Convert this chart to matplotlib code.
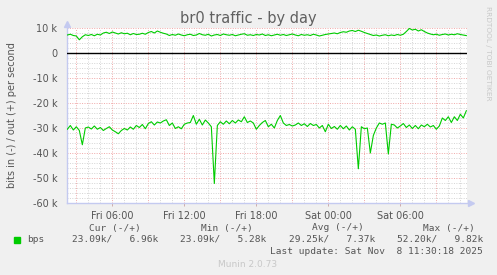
import numpy as np
import matplotlib.pyplot as plt
from matplotlib.ticker import FuncFormatter

# samples every 15 minutes, starting Fri 02:15 (hours since Fri 00:00)
start_hour = 2.25
step_hour = 0.25

# bits per second, in (drawn negative), thousands
bps_in = [
    30.5, 29.0, 30.8, 29.5, 31.0, 36.7, 30.0, 29.6, 30.4, 29.2,
    30.5, 29.8, 31.0, 30.2, 29.5, 30.8, 31.5, 32.3, 31.0, 30.2,
    30.8, 29.6, 30.5, 29.0, 29.8, 28.6, 30.3, 28.2, 27.5, 28.8,
    27.6, 28.0, 27.2, 26.7, 29.0, 28.0, 30.2, 29.5, 30.3, 28.5,
    28.0, 27.8, 25.0, 28.5, 26.5, 28.8, 26.8, 28.0, 29.5, 52.2,
    29.0, 27.5, 28.5, 27.2, 28.3, 27.0, 28.0, 26.8, 27.5, 25.5,
    27.8, 27.2, 28.0, 30.5, 29.0, 27.8, 27.0, 29.5, 28.5, 30.0,
    27.0, 25.0, 28.0, 29.0, 28.6, 29.2, 28.8, 28.0, 29.0, 28.3,
    29.4, 28.2, 29.0, 28.6, 30.0, 29.0, 31.5, 28.5, 30.2, 29.4,
    30.5, 29.0, 30.3, 29.2, 30.8, 29.5, 30.5, 46.3, 29.5, 30.3,
    30.0, 40.0, 33.0, 30.0, 28.0, 28.5, 28.0, 40.4, 28.5, 28.8,
    30.0, 29.2, 28.2, 29.8, 28.8, 30.2, 29.0, 30.3, 28.8, 29.5,
    28.5, 29.6, 29.0, 30.5, 29.2, 26.0, 27.0, 25.5, 27.8, 25.5,
    27.0, 24.5, 26.0, 23.09,
]

# bits per second, out (drawn positive), thousands
bps_out = [
    7.2, 7.5, 7.0, 6.8, 5.28, 6.5, 7.3, 7.0, 7.4, 6.9,
    7.5, 7.2, 8.0, 8.3, 7.8, 8.4, 8.0, 7.6, 8.1, 7.7,
    7.9, 7.3, 7.8, 7.4, 7.5, 7.9, 7.5, 8.2, 8.6, 8.0,
    8.8, 8.3, 7.9, 7.6, 7.0, 7.4, 7.1, 7.6, 7.2, 6.9,
    7.3, 7.5, 7.0, 7.2, 7.8, 7.3, 7.1, 7.5, 6.8, 7.2,
    7.4, 7.0, 7.6, 7.3, 7.1, 7.4, 6.9, 7.2, 7.5, 7.7,
    7.1, 7.3, 7.0, 7.4, 7.2, 7.6, 7.0, 7.3, 6.9, 7.2,
    7.5, 7.1, 7.4, 7.0, 7.3, 7.6, 7.2, 6.9, 7.4, 7.1,
    7.3, 7.0, 7.5, 7.2, 6.8, 7.1, 7.4, 7.6, 7.8, 8.0,
    7.7, 8.2, 8.5, 8.3, 8.8, 9.0, 8.6, 9.1, 8.7, 8.2,
    7.8, 7.4, 7.0, 7.2, 6.8, 7.1, 7.3, 6.9, 7.2, 7.0,
    7.4, 7.1, 7.5, 8.6, 9.82, 9.2, 9.5, 8.8, 9.3, 8.6,
    8.0, 7.6, 7.3, 7.5, 7.1, 7.4, 7.6, 7.2, 7.5, 7.3,
    7.7, 7.4, 7.2, 6.96,
]

xtick_hours = [6, 12, 18, 24, 30]
xtick_labels = ["Fri 06:00", "Fri 12:00", "Fri 18:00", "Sat 00:00", "Sat 06:00"]

legend_headers = ["Cur (-/+)", "Min (-/+)", "Avg (-/+)", "Max (-/+)"]
legend_values = ["23.09k/   6.96k", "23.09k/   5.28k", "29.25k/   7.37k", "52.20k/   9.82k"]

W, H = 497, 275
GREEN = "#00CC00"
TXT = "#555555"

hours = start_hour + step_hour * np.arange(len(bps_in))
vin = -np.array(bps_in) * 1000
vout = np.array(bps_out) * 1000

fig = plt.figure(figsize=(W / 100, H / 100), dpi=100, facecolor="#F0F0F0")
ax = fig.add_axes([67 / W, (H - 203) / H, 400 / W, 175 / H])
ax.set_facecolor("white")

# grid
for h in np.arange(3, 36, 1):
    major = h % 3 == 0
    ax.axvline(h, color="#F0A8A8" if major else "#D4D4D4", lw=0.7,
               ls=(0, (1, 1.5)), zorder=1)
for v in np.arange(-60000, 10001, 2000):
    major = v % 10000 == 0
    ax.axhline(v, color="#F0A8A8" if major else "#D4D4D4", lw=0.7,
               ls=(0, (1, 1.5)), zorder=1)

ax.axhline(0, color="black", lw=1.0, zorder=3)
ax.plot(hours, vout, color=GREEN, lw=0.8, zorder=4)
ax.plot(hours, vin, color=GREEN, lw=0.8, zorder=4)

ax.set_xlim(2.222, 35.555)
ax.set_ylim(-60000, 10000)

ax.set_xticks(xtick_hours)
ax.set_xticklabels(xtick_labels)
ax.set_yticks(np.arange(-60000, 10001, 10000))
ax.yaxis.set_major_formatter(FuncFormatter(
    lambda v, p: "0" if v == 0 else "%d k" % (v / 1000)))
ax.tick_params(axis="both", length=2, width=0.6, color="#C8A0A0",
               labelsize=7, labelcolor=TXT, pad=4)
ax.tick_params(axis="y", pad=7, length=0)

for s in ["top", "right"]:
    ax.spines[s].set_visible(False)
for s in ["left", "bottom"]:
    ax.spines[s].set_color("#C4CAF0")
    ax.spines[s].set_linewidth(1.0)

# axis arrows
ax.plot([2.222], [11800], marker="^", ms=4, color="#C4CAF0", clip_on=False, zorder=5)
ax.plot([35.85], [-60000], marker=">", ms=4, color="#C4CAF0", clip_on=False, zorder=5)


def ftext(x, y, s, **kw):
    fig.text(x / W, 1 - y / H, s, **kw)


ftext(248, 18, "br0 traffic - by day", fontsize=10.5, color="#606060",
      ha="center", va="center")
ftext(12, 115.5, "bits in (-) / out (+) per second", fontsize=7, color=TXT,
      rotation=90, ha="center", va="center")
ftext(488, 53, "RRDTOOL / TOBI OETIKER", fontsize=5.3, color="#C8C8C8",
      rotation=270, ha="center", va="center")

mono = dict(family="DejaVu Sans Mono", fontsize=6.8, color=TXT, va="center")
header_x = [89, 201, 312, 423]
value_x = [72, 180, 289, 397]
for hx, hd in zip(header_x, legend_headers):
    ftext(hx, 228, hd, ha="left", **mono)
for vx, vl in zip(value_x, legend_values):
    ftext(vx, 239.5, vl, ha="left", **mono)
ftext(27, 239.5, "bps", ha="left", **mono)
fig.patches.append(plt.Rectangle((14 / W, 1 - 242.5 / H), 6 / W, 6 / H,
                                 transform=fig.transFigure, color=GREEN))
ftext(483, 251, "Last update: Sat Nov  8 11:30:18 2025", ha="right", **mono)
ftext(248, 264.5, "Munin 2.0.73", fontsize=6.5, color="#C8C8C8",
      ha="center", va="center")

fig.savefig("out.png", dpi=100, facecolor=fig.get_facecolor())
